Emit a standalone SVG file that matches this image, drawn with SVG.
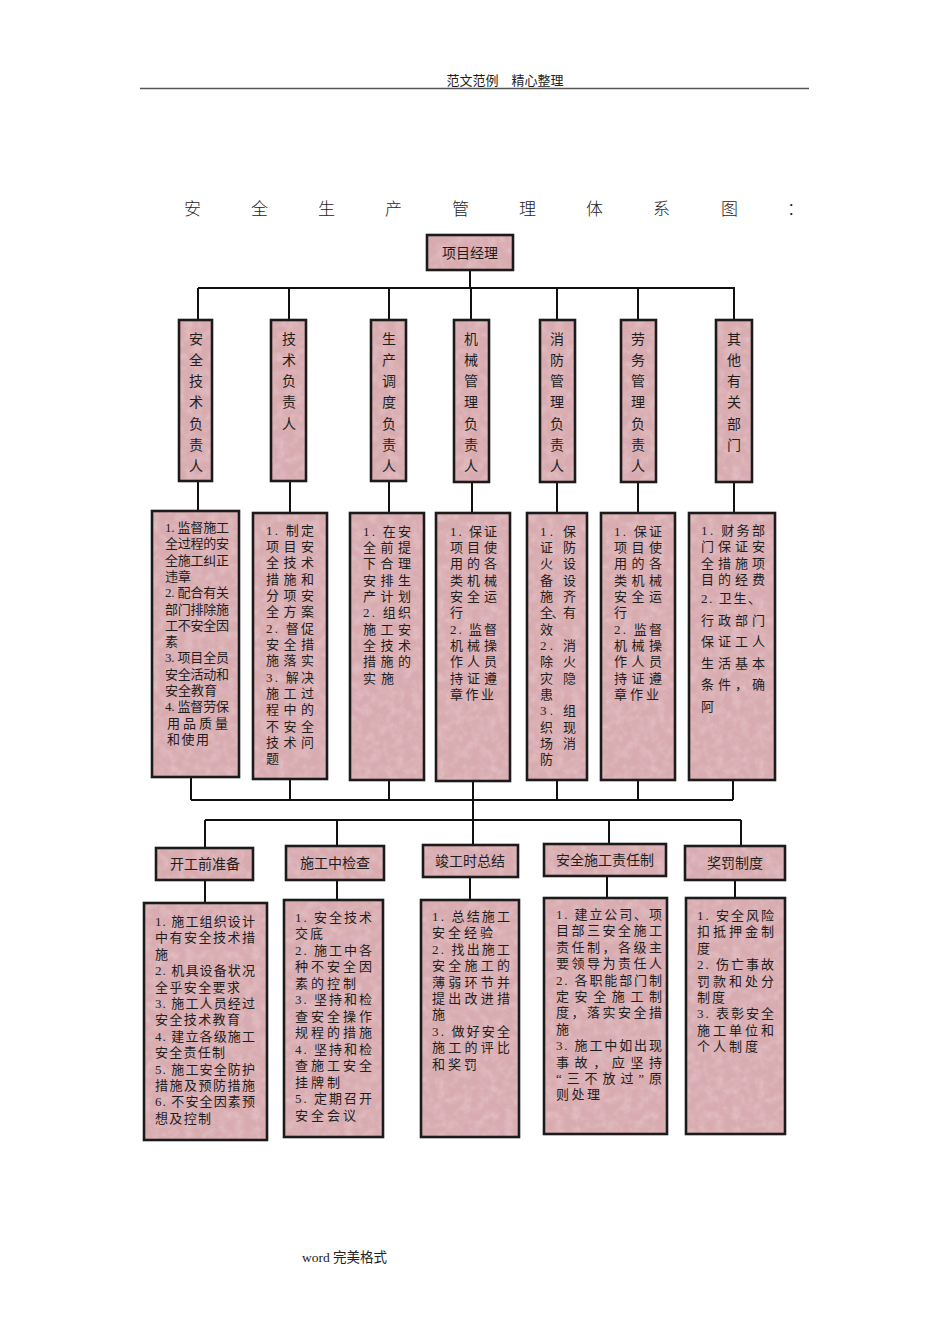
<svg xmlns="http://www.w3.org/2000/svg" width="950" height="1344" viewBox="0 0 950 1344">
<defs>
<filter id="noise" x="0" y="0" width="100%" height="100%">
<feTurbulence type="fractalNoise" baseFrequency="0.12" numOctaves="3" seed="4" stitchTiles="stitch" result="n"/>
<feColorMatrix in="n" type="matrix" values="0 0 0 0 1  0 0 0 0 1  0 0 0 0 1  0.45 0 0 0 -0.17"/>
</filter>
<pattern id="tex" patternUnits="userSpaceOnUse" width="160" height="160">
<rect width="160" height="160" fill="#d8abb0"/>
<rect width="160" height="160" filter="url(#noise)"/>
</pattern>
<style>
.box{fill:url(#tex);stroke:#1b1b1b;stroke-width:2.6}
.t{font-family:"Liberation Serif","Noto Sans CJK SC",serif;font-size:13px;fill:#1e1e1e}
.h{font-family:"Liberation Serif","Noto Sans CJK SC",serif;font-size:14px;fill:#1e1e1e;text-anchor:middle}
.v{font-family:"Liberation Serif","Noto Sans CJK SC",serif;font-size:14px;fill:#1e1e1e;text-anchor:middle}
.ln{stroke:#111;stroke-width:2;fill:none}
</style>
</defs>
<rect width="950" height="1344" fill="#ffffff"/>

<g id="page-header">
<text x="505" y="85" class="h" style="font-size:13px">范文范例　精心整理</text>
<line x1="140" y1="88.5" x2="809" y2="88.5" stroke="#555" stroke-width="1.5"/>
</g>

<g id="title">
<text y="215" x="184 251 318 385 452 519 586 653 721 787" style="font-family:'Liberation Serif','Noto Sans CJK SC',serif;font-size:17px;font-weight:300" fill="#222">安全生产管理体系图：</text>
</g>

<g id="connectors">
<path class="ln" d="M470 270V288M198 288H735M198 288V320M289 288V320M389 288V320M471 288V320M557 288V320M638 288V320M734 288V320"/>
<path class="ln" d="M198 481V511M290 481V513M389 481V513M472 481V513M557 481V513M638 481V513M734 481V513"/>
<path class="ln" d="M191 777V800M290 779V800M389 780V800M473 781V800M557 780V800M638 780V800M733 780V800M191 800H733M473 800V820M205 820H741M205 820V848M337 820V846M473 820V845M609 820V844M741 820V846"/>
<path class="ln" d="M205 880V903M337 880V900M470 877V900M607 876V898M735 880V898"/>
</g>

<g id="pm">
<rect class="box" x="427" y="235" width="86" height="35"/>
<text x="470" y="258" class="h">项目经理</text>
</g>

<g id="role-1">
<rect class="box" x="179" y="320" width="33" height="161"/>
<text class="v"><tspan x="196" y="344">安</tspan><tspan x="196" y="365">全</tspan><tspan x="196" y="386">技</tspan><tspan x="196" y="407">术</tspan><tspan x="196" y="429">负</tspan><tspan x="196" y="450">责</tspan><tspan x="196" y="471">人</tspan></text>
</g>
<g id="role-2">
<rect class="box" x="271" y="320" width="35" height="161"/>
<text class="v"><tspan x="289" y="344">技</tspan><tspan x="289" y="365">术</tspan><tspan x="289" y="386">负</tspan><tspan x="289" y="407">责</tspan><tspan x="289" y="429">人</tspan></text>
</g>
<g id="role-3">
<rect class="box" x="371" y="320" width="35" height="161"/>
<text class="v"><tspan x="389" y="344">生</tspan><tspan x="389" y="365">产</tspan><tspan x="389" y="386">调</tspan><tspan x="389" y="407">度</tspan><tspan x="389" y="429">负</tspan><tspan x="389" y="450">责</tspan><tspan x="389" y="471">人</tspan></text>
</g>
<g id="role-4">
<rect class="box" x="454" y="320" width="35" height="162"/>
<text class="v"><tspan x="471" y="344">机</tspan><tspan x="471" y="365">械</tspan><tspan x="471" y="386">管</tspan><tspan x="471" y="407">理</tspan><tspan x="471" y="429">负</tspan><tspan x="471" y="450">责</tspan><tspan x="471" y="471">人</tspan></text>
</g>
<g id="role-5">
<rect class="box" x="540" y="320" width="35" height="162"/>
<text class="v"><tspan x="557" y="344">消</tspan><tspan x="557" y="365">防</tspan><tspan x="557" y="386">管</tspan><tspan x="557" y="407">理</tspan><tspan x="557" y="429">负</tspan><tspan x="557" y="450">责</tspan><tspan x="557" y="471">人</tspan></text>
</g>
<g id="role-6">
<rect class="box" x="621" y="320" width="35" height="162"/>
<text class="v"><tspan x="638" y="344">劳</tspan><tspan x="638" y="365">务</tspan><tspan x="638" y="386">管</tspan><tspan x="638" y="407">理</tspan><tspan x="638" y="429">负</tspan><tspan x="638" y="450">责</tspan><tspan x="638" y="471">人</tspan></text>
</g>
<g id="role-7">
<rect class="box" x="716" y="320" width="36" height="162"/>
<text class="v"><tspan x="734" y="344">其</tspan><tspan x="734" y="365">他</tspan><tspan x="734" y="386">有</tspan><tspan x="734" y="407">关</tspan><tspan x="734" y="429">部</tspan><tspan x="734" y="450">门</tspan></text>
</g>

<g id="duty-1">
<rect class="box" x="152" y="511" width="87" height="266"/>
<text class="t" x="165" y="532" textLength="64" lengthAdjust="spacing">1. 监督施工</text>
<text class="t" x="165" y="548" textLength="64" lengthAdjust="spacing">全过程的安</text>
<text class="t" x="165" y="565" textLength="64" lengthAdjust="spacing">全施工纠正</text>
<text class="t" x="165" y="581">违章</text>
<text class="t" x="165" y="597" textLength="64" lengthAdjust="spacing">2. 配合有关</text>
<text class="t" x="165" y="614" textLength="64" lengthAdjust="spacing">部门排除施</text>
<text class="t" x="165" y="630" textLength="64" lengthAdjust="spacing">工不安全因</text>
<text class="t" x="165" y="646">素</text>
<text class="t" x="165" y="662" textLength="64" lengthAdjust="spacing">3. 项目全员</text>
<text class="t" x="165" y="679" textLength="64" lengthAdjust="spacing">安全活动和</text>
<text class="t" x="165" y="695">安全教育</text>
<text class="t" x="165" y="711" textLength="64" lengthAdjust="spacing">4. 监督劳保</text>
<text class="t" x="167" y="728" textLength="61" lengthAdjust="spacing">用品质量</text>
<text class="t" x="167" y="744" textLength="42" lengthAdjust="spacing">和使用</text>
</g>

<g id="duty-2">
<rect class="box" x="253" y="513" width="74" height="266"/>
<text class="t" x="266" y="535" textLength="48" lengthAdjust="spacing">1. 制定</text>
<text class="t" x="266" y="551" textLength="48" lengthAdjust="spacing">项目安</text>
<text class="t" x="266" y="567" textLength="48" lengthAdjust="spacing">全技术</text>
<text class="t" x="266" y="584" textLength="48" lengthAdjust="spacing">措施和</text>
<text class="t" x="266" y="600" textLength="48" lengthAdjust="spacing">分项安</text>
<text class="t" x="266" y="616" textLength="48" lengthAdjust="spacing">全方案</text>
<text class="t" x="266" y="633" textLength="48" lengthAdjust="spacing">2. 督促</text>
<text class="t" x="266" y="649" textLength="48" lengthAdjust="spacing">安全措</text>
<text class="t" x="266" y="665" textLength="48" lengthAdjust="spacing">施落实</text>
<text class="t" x="266" y="682" textLength="48" lengthAdjust="spacing">3. 解决</text>
<text class="t" x="266" y="698" textLength="48" lengthAdjust="spacing">施工过</text>
<text class="t" x="266" y="714" textLength="48" lengthAdjust="spacing">程中的</text>
<text class="t" x="266" y="731" textLength="48" lengthAdjust="spacing">不安全</text>
<text class="t" x="266" y="747" textLength="48" lengthAdjust="spacing">技术问</text>
<text class="t" x="266" y="763">题</text>
</g>

<g id="duty-3">
<rect class="box" x="350" y="513" width="74" height="267"/>
<text class="t" x="363" y="536" textLength="48" lengthAdjust="spacing">1. 在安</text>
<text class="t" x="363" y="552" textLength="48" lengthAdjust="spacing">全前提</text>
<text class="t" x="363" y="568" textLength="48" lengthAdjust="spacing">下合理</text>
<text class="t" x="363" y="585" textLength="48" lengthAdjust="spacing">安排生</text>
<text class="t" x="363" y="601" textLength="48" lengthAdjust="spacing">产计划</text>
<text class="t" x="363" y="617" textLength="48" lengthAdjust="spacing">2. 组织</text>
<text class="t" x="363" y="634" textLength="48" lengthAdjust="spacing">施工安</text>
<text class="t" x="363" y="650" textLength="48" lengthAdjust="spacing">全技术</text>
<text class="t" x="363" y="666" textLength="48" lengthAdjust="spacing">措施的</text>
<text class="t" x="363" y="683" textLength="31" lengthAdjust="spacing">实施</text>
</g>

<g id="duty-4">
<rect class="box" x="436" y="513" width="74" height="268"/>
<text class="t" x="450" y="536" textLength="47" lengthAdjust="spacing">1. 保证</text>
<text class="t" x="450" y="552" textLength="47" lengthAdjust="spacing">项目使</text>
<text class="t" x="450" y="568" textLength="47" lengthAdjust="spacing">用的各</text>
<text class="t" x="450" y="585" textLength="47" lengthAdjust="spacing">类机械</text>
<text class="t" x="450" y="601" textLength="47" lengthAdjust="spacing">安全运</text>
<text class="t" x="450" y="617">行</text>
<text class="t" x="450" y="634" textLength="47" lengthAdjust="spacing">2. 监督</text>
<text class="t" x="450" y="650" textLength="47" lengthAdjust="spacing">机械操</text>
<text class="t" x="450" y="666" textLength="47" lengthAdjust="spacing">作人员</text>
<text class="t" x="450" y="683" textLength="47" lengthAdjust="spacing">持证遵</text>
<text class="t" x="450" y="699" textLength="44" lengthAdjust="spacing">章作业</text>
</g>

<g id="duty-5">
<rect class="box" x="527" y="513" width="60" height="267"/>
<text class="t" x="540" y="536" textLength="36" lengthAdjust="spacing">1. 保</text>
<text class="t" x="540" y="552" textLength="36" lengthAdjust="spacing">证防</text>
<text class="t" x="540" y="568" textLength="36" lengthAdjust="spacing">火设</text>
<text class="t" x="540" y="585" textLength="36" lengthAdjust="spacing">备设</text>
<text class="t" x="540" y="601" textLength="36" lengthAdjust="spacing">施齐</text>
<text class="t" x="540" y="617" textLength="36" lengthAdjust="spacing">全、有</text>
<text class="t" x="540" y="634">效</text>
<text class="t" x="540" y="650" textLength="36" lengthAdjust="spacing">2. 消</text>
<text class="t" x="540" y="666" textLength="36" lengthAdjust="spacing">除火</text>
<text class="t" x="540" y="683" textLength="36" lengthAdjust="spacing">灾隐</text>
<text class="t" x="540" y="699">患</text>
<text class="t" x="540" y="715" textLength="36" lengthAdjust="spacing">3. 组</text>
<text class="t" x="540" y="732" textLength="36" lengthAdjust="spacing">织现</text>
<text class="t" x="540" y="748" textLength="36" lengthAdjust="spacing">场消</text>
<text class="t" x="540" y="764">防</text>
</g>

<g id="duty-6">
<rect class="box" x="601" y="513" width="74" height="267"/>
<text class="t" x="614" y="536" textLength="48" lengthAdjust="spacing">1. 保证</text>
<text class="t" x="614" y="552" textLength="48" lengthAdjust="spacing">项目使</text>
<text class="t" x="614" y="568" textLength="48" lengthAdjust="spacing">用的各</text>
<text class="t" x="614" y="585" textLength="48" lengthAdjust="spacing">类机械</text>
<text class="t" x="614" y="601" textLength="48" lengthAdjust="spacing">安全运</text>
<text class="t" x="614" y="617">行</text>
<text class="t" x="614" y="634" textLength="48" lengthAdjust="spacing">2. 监督</text>
<text class="t" x="614" y="650" textLength="48" lengthAdjust="spacing">机械操</text>
<text class="t" x="614" y="666" textLength="48" lengthAdjust="spacing">作人员</text>
<text class="t" x="614" y="683" textLength="48" lengthAdjust="spacing">持证遵</text>
<text class="t" x="614" y="699" textLength="45" lengthAdjust="spacing">章作业</text>
</g>

<g id="duty-7">
<rect class="box" x="689" y="513" width="86" height="267"/>
<text class="t" x="701" y="535" textLength="64" lengthAdjust="spacing">1. 财务部</text>
<text class="t" x="701" y="551" textLength="64" lengthAdjust="spacing">门保证安</text>
<text class="t" x="701" y="568" textLength="64" lengthAdjust="spacing">全措施项</text>
<text class="t" x="701" y="584" textLength="64" lengthAdjust="spacing">目的经费</text>
<text class="t" x="701" y="603" textLength="60" lengthAdjust="spacing">2. 卫生、</text>
<text class="t" x="701" y="625" textLength="64" lengthAdjust="spacing">行政部门</text>
<text class="t" x="701" y="646" textLength="64" lengthAdjust="spacing">保证工人</text>
<text class="t" x="701" y="668" textLength="64" lengthAdjust="spacing">生活基本</text>
<text class="t" x="701" y="689" textLength="64" lengthAdjust="spacing">条件，确</text>
<text class="t" x="701" y="711">阿</text>
</g>

<g id="phase-1">
<rect class="box" x="156" y="848" width="97" height="32"/>
<text x="205" y="869" class="h">开工前准备</text>
</g>
<g id="phase-2">
<rect class="box" x="286" y="846" width="98" height="34"/>
<text x="335" y="868" class="h">施工中检查</text>
</g>
<g id="phase-3">
<rect class="box" x="423" y="845" width="95" height="32"/>
<text x="470" y="866" class="h">竣工时总结</text>
</g>
<g id="phase-4">
<rect class="box" x="544" y="844" width="122" height="32"/>
<text x="605" y="865" class="h">安全施工责任制</text>
</g>
<g id="phase-5">
<rect class="box" x="685" y="846" width="100" height="34"/>
<text x="735" y="868" class="h">奖罚制度</text>
</g>

<g id="item-1">
<rect class="box" x="144" y="903" width="123" height="237"/>
<text class="t" x="155" y="926" textLength="100" lengthAdjust="spacing">1. 施工组织设计</text>
<text class="t" x="155" y="942" textLength="100" lengthAdjust="spacing">中有安全技术措</text>
<text class="t" x="155" y="959">施</text>
<text class="t" x="155" y="975" textLength="100" lengthAdjust="spacing">2. 机具设备状况</text>
<text class="t" x="155" y="992" textLength="85" lengthAdjust="spacing">全乎安全要求</text>
<text class="t" x="155" y="1008" textLength="100" lengthAdjust="spacing">3. 施工人员经过</text>
<text class="t" x="155" y="1024" textLength="85" lengthAdjust="spacing">安全技术教育</text>
<text class="t" x="155" y="1041" textLength="100" lengthAdjust="spacing">4. 建立各级施工</text>
<text class="t" x="155" y="1057" textLength="70" lengthAdjust="spacing">安全责任制</text>
<text class="t" x="155" y="1074" textLength="100" lengthAdjust="spacing">5. 施工安全防护</text>
<text class="t" x="155" y="1090" textLength="100" lengthAdjust="spacing">措施及预防措施</text>
<text class="t" x="155" y="1106" textLength="100" lengthAdjust="spacing">6. 不安全因素预</text>
<text class="t" x="155" y="1123" textLength="56" lengthAdjust="spacing">想及控制</text>
</g>

<g id="item-2">
<rect class="box" x="284" y="900" width="99" height="237"/>
<text class="t" x="295" y="922" textLength="77" lengthAdjust="spacing">1. 安全技术</text>
<text class="t" x="295" y="938" textLength="28" lengthAdjust="spacing">交底</text>
<text class="t" x="295" y="955" textLength="77" lengthAdjust="spacing">2. 施工中各</text>
<text class="t" x="295" y="971" textLength="77" lengthAdjust="spacing">种不安全因</text>
<text class="t" x="295" y="988" textLength="61" lengthAdjust="spacing">素的控制</text>
<text class="t" x="295" y="1004" textLength="77" lengthAdjust="spacing">3. 坚持和检</text>
<text class="t" x="295" y="1021" textLength="77" lengthAdjust="spacing">查安全操作</text>
<text class="t" x="295" y="1037" textLength="77" lengthAdjust="spacing">规程的措施</text>
<text class="t" x="295" y="1054" textLength="77" lengthAdjust="spacing">4. 坚持和检</text>
<text class="t" x="295" y="1070" textLength="77" lengthAdjust="spacing">查施工安全</text>
<text class="t" x="295" y="1087" textLength="45" lengthAdjust="spacing">挂牌制</text>
<text class="t" x="295" y="1103" textLength="77" lengthAdjust="spacing">5. 定期召开</text>
<text class="t" x="295" y="1120" textLength="61" lengthAdjust="spacing">安全会议</text>
</g>

<g id="item-3">
<rect class="box" x="421" y="900" width="98" height="237"/>
<text class="t" x="432" y="921" textLength="78" lengthAdjust="spacing">1. 总结施工</text>
<text class="t" x="432" y="937" textLength="61" lengthAdjust="spacing">安全经验</text>
<text class="t" x="432" y="954" textLength="78" lengthAdjust="spacing">2. 找出施工</text>
<text class="t" x="432" y="970" textLength="78" lengthAdjust="spacing">安全施工的</text>
<text class="t" x="432" y="987" textLength="78" lengthAdjust="spacing">薄弱环节并</text>
<text class="t" x="432" y="1003" textLength="78" lengthAdjust="spacing">提出改进措</text>
<text class="t" x="432" y="1019">施</text>
<text class="t" x="432" y="1036" textLength="78" lengthAdjust="spacing">3. 做好安全</text>
<text class="t" x="432" y="1052" textLength="78" lengthAdjust="spacing">施工的评比</text>
<text class="t" x="432" y="1069" textLength="45" lengthAdjust="spacing">和奖罚</text>
</g>

<g id="item-4">
<rect class="box" x="544" y="898" width="123" height="236"/>
<text class="t" x="556" y="919" textLength="106" lengthAdjust="spacing">1. 建立公司、项</text>
<text class="t" x="556" y="935" textLength="106" lengthAdjust="spacing">目部三安全施工</text>
<text class="t" x="556" y="952" textLength="106" lengthAdjust="spacing">责任制，各级主</text>
<text class="t" x="556" y="968" textLength="106" lengthAdjust="spacing">要领导为责任人</text>
<text class="t" x="556" y="985" textLength="106" lengthAdjust="spacing">2. 各职能部门制</text>
<text class="t" x="556" y="1001" textLength="106" lengthAdjust="spacing">定安全施工制</text>
<text class="t" x="556" y="1017" textLength="106" lengthAdjust="spacing">度，落实安全措</text>
<text class="t" x="556" y="1034">施</text>
<text class="t" x="556" y="1050" textLength="106" lengthAdjust="spacing">3. 施工中如出现</text>
<text class="t" x="556" y="1067" textLength="106" lengthAdjust="spacing">事故，应坚持</text>
<text class="t" x="556" y="1083" textLength="106" lengthAdjust="spacing">“三不放过”原</text>
<text class="t" x="556" y="1099" textLength="44" lengthAdjust="spacing">则处理</text>
</g>

<g id="item-5">
<rect class="box" x="686" y="898" width="99" height="236"/>
<text class="t" x="697" y="920" textLength="77" lengthAdjust="spacing">1. 安全风险</text>
<text class="t" x="697" y="936" textLength="77" lengthAdjust="spacing">扣抵押金制</text>
<text class="t" x="697" y="953">度</text>
<text class="t" x="697" y="969" textLength="77" lengthAdjust="spacing">2. 伤亡事故</text>
<text class="t" x="697" y="986" textLength="77" lengthAdjust="spacing">罚款和处分</text>
<text class="t" x="697" y="1002" textLength="28" lengthAdjust="spacing">制度</text>
<text class="t" x="697" y="1018" textLength="77" lengthAdjust="spacing">3. 表彰安全</text>
<text class="t" x="697" y="1035" textLength="77" lengthAdjust="spacing">施工单位和</text>
<text class="t" x="697" y="1051" textLength="61" lengthAdjust="spacing">个人制度</text>
</g>

<g id="page-footer">
<text x="302" y="1262" style="font-family:'Liberation Serif','Noto Sans CJK SC',serif;font-size:13.5px" fill="#222">word 完美格式</text>
</g>
</svg>
